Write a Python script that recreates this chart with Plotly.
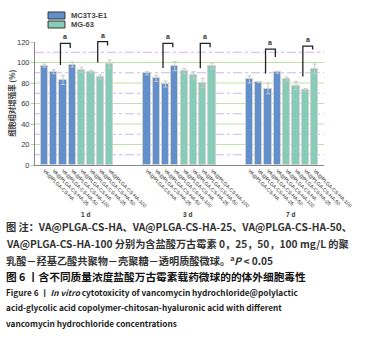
import plotly.graph_objects as go

# ---------------- data ----------------
days = ["1 d", "3 d", "7 d"]
treatments = ["VA@PLGA-CS-HA", "VA@PLGA-CS-HA-25", "VA@PLGA-CS-HA-50", "VA@PLGA-CS-HA-100"]
series_names = ["MC3T3-E1", "MG-63"]
mc3t3_values = [[97, 91, 83, 98], [89.5, 84.5, 79, 96.5], [83.5, 81, 74.5, 90.5]]
mc3t3_errors = [[1.5, 2, 4.5, 2.5], [1.5, 3, 3, 4.5], [3.5, 0.5, 5, 1]]
mg63_values = [[93, 91, 86, 98.5], [91.5, 87.5, 80, 96.5], [84, 77.5, 73, 94]]
mg63_errors = [[2.5, 1, 2, 4], [2.5, 3.5, 4.5, 3], [2, 4, 1.5, 4.5]]
# significance brackets: (day, first bar, second bar, top, left end, right end)
brackets = [
    (0, 2, 3, 118.7, 97.6, 114.2), (0, 6, 7, 120.3, 100.0, 116.5),
    (1, 2, 3, 118.7, 94.7, 114.8), (1, 6, 7, 118.7, 94.4, 114.8),
    (2, 2, 3, 113.1, 89.2, 105.4), (2, 6, 7, 116.0, 86.3, 112.6),
]
y_ticks = [0, 20, 40, 60, 80, 100, 120]
y_title = "细胞相对增殖率 (%)"
caption_lines = [
    "图 注：VA@PLGA-CS-HA、VA@PLGA-CS-HA-25、VA@PLGA-CS-HA-50、",
    "VA@PLGA-CS-HA-100 分别为含盐酸万古霉素 0，25，50，100 mg/L 的聚",
    "乳酸－羟基乙酸共聚物－壳聚糖－透明质酸微球。<sup>a</sup><i>P</i> < 0.05",
    "图 6 丨含不同质量浓度盐酸万古霉素载药微球的的体外细胞毒性",
]
caption_en = [
    "Figure 6 丨 <i>In vitro</i> cytotoxicity of vancomycin hydrochloride@polylactic",
    "acid-glycolic acid copolymer-chitosan-hyaluronic acid with different",
    "vancomycin hydrochloride concentrations",
]

# ---------------- layout helpers ----------------
W_FIG, H_FIG = 365, 339
L, R, T, B = 35, 31, 42, 174
PW = W_FIG - L - R
PH = H_FIG - T - B
Y_MAX = 120
X_RANGE = [-1, 30]
SLOT = 11  # 8 bars + 3 gap slots per day


def xp(px):
    return (px - L) / PW


def yp(py):
    return (T + PH - py) / PH


def pos(day, k):
    return day * SLOT + k


BLUE = "#6290cc"
GREEN = "#86ccb6"

fig = go.Figure()
series = [(mc3t3_values, mc3t3_errors, BLUE, 0), (mg63_values, mg63_errors, GREEN, 4)]
for name, (vals, errs, col, off) in zip(series_names, series):
    xs, ys, es = [], [], []
    for d in range(len(days)):
        for k in range(len(treatments)):
            xs.append(pos(d, off + k))
            ys.append(vals[d][k])
            es.append(errs[d][k])
    fig.add_trace(go.Bar(
        x=xs, y=ys, name=name, width=0.78,
        marker=dict(color=col, line=dict(color="#d2d2d2", width=1)),
        error_y=dict(type="data", array=es, color="#c8c8c8", thickness=1, width=2),
        showlegend=False,
    ))

shapes = []
# gridlines
for v in [20, 40, 60, 80, 100]:
    shapes.append(dict(type="line", xref="paper", yref="y", x0=0, x1=1, y0=v, y1=v,
                       line=dict(color="#bfe0a8", width=1), layer="below"))
for v in [10, 30, 50, 70, 90, 110]:
    shapes.append(dict(type="line", xref="paper", yref="y", x0=0, x1=1, y0=v, y1=v,
                       line=dict(color="#cdb8de", width=1, dash="dashdot"), layer="below"))

annotations = []
# significance brackets
for d, a, b, top, lo, ro in brackets:
    xl = pos(d, a) - 0.27
    xr = pos(d, b) - 0.22
    path = (f"M{xl},{lo / Y_MAX} L{xl},{top / Y_MAX} L{xr},{top / Y_MAX} L{xr},{ro / Y_MAX}")
    shapes.append(dict(type="path", xref="x", yref="paper", path=path,
                       line=dict(color="#222222", width=1.3)))
    annotations.append(dict(x=(xl + xr) / 2, y=top / Y_MAX, xref="x", yref="paper",
                            text="<b>a</b>", showarrow=False, yanchor="bottom", yshift=1,
                            font=dict(size=7, color="#333333", family="Liberation Sans")))

# legend (manual)
legend_rows = [(BLUE, 15.5), (GREEN, 24.5)]
for name, (col, cy) in zip(series_names, legend_rows):
    shapes.append(dict(type="rect", xref="paper", yref="paper",
                       x0=xp(48.5), x1=xp(66), y0=yp(cy - 3.5), y1=yp(cy + 3.5),
                       fillcolor=col, line=dict(color="#333333", width=1)))
    annotations.append(dict(x=xp(70), y=yp(cy), xref="paper", yref="paper", text="<b>" + name + "</b>",
                            showarrow=False, xanchor="left", yanchor="middle",
                            font=dict(size=7.5, color="#444444", family="Liberation Sans")))

# y-axis title
annotations.append(dict(x=xp(10), y=yp(103), xref="paper", yref="paper", text="<b>" + y_title + "</b>",
                        textangle=-90, showarrow=False, xanchor="center", yanchor="middle",
                        font=dict(size=7.5, color="#444444", family="Noto Sans CJK SC")))

# day labels
for d, lab in enumerate(days):
    annotations.append(dict(x=pos(d, 3.5) + 0.9, y=yp(214), xref="x", yref="paper", text="<b>" + lab + "</b>",
                            showarrow=False, xanchor="center", yanchor="middle",
                            font=dict(size=6.5, color="#333333", family="Liberation Sans")))

# captions
cap_y = [226, 243, 260, 276.5]
for i, (txt, cy) in enumerate(zip(caption_lines, cap_y)):
    annotations.append(dict(x=xp(3), y=yp(cy), xref="paper", yref="paper", text="<b>" + txt + "</b>",
                            showarrow=False, xanchor="left", yanchor="middle",
                            font=dict(size=10.7 if i == 3 else 10.2,
                                      color="#111111" if i == 3 else "#333333",
                                      family="Noto Sans CJK SC")))
en_y = [291.5, 307, 322.5]
for txt, cy in zip(caption_en, en_y):
    annotations.append(dict(x=xp(3), y=yp(cy), xref="paper", yref="paper", text="<b>" + txt + "</b>",
                            showarrow=False, xanchor="left", yanchor="middle",
                            font=dict(size=8.25, color="#222222", family="Noto Sans CJK SC")))

tickvals, ticktext = [], []
for d in range(len(days)):
    for off in (0, 4):
        for k, t in enumerate(treatments):
            tickvals.append(pos(d, off + k))
            ticktext.append(t)

fig.update_layout(
    width=W_FIG, height=H_FIG,
    margin=dict(l=L, r=R, t=T, b=B),
    paper_bgcolor="white", plot_bgcolor="white",
    bargap=0, showlegend=False,
    shapes=shapes, annotations=annotations,
    xaxis=dict(range=X_RANGE, tickvals=tickvals, ticktext=ticktext, tickangle=45,
               showgrid=False, zeroline=False, showline=True, linecolor="#888888", linewidth=1,
               ticks="", tickfont=dict(size=5, color="#222222", family="Liberation Sans")),
    yaxis=dict(range=[0, Y_MAX], tickvals=y_ticks, showgrid=False, zeroline=False,
               showline=True, linecolor="#888888", linewidth=1,
               ticks="outside", ticklen=3, tickcolor="#a8d890",
               tickfont=dict(size=7.5, color="#333333", family="Liberation Sans")),
)

fig.write_html("out.html", config={"displayModeBar": False},
               post_script="document.body.style.margin='0';document.body.style.overflow='hidden';")
